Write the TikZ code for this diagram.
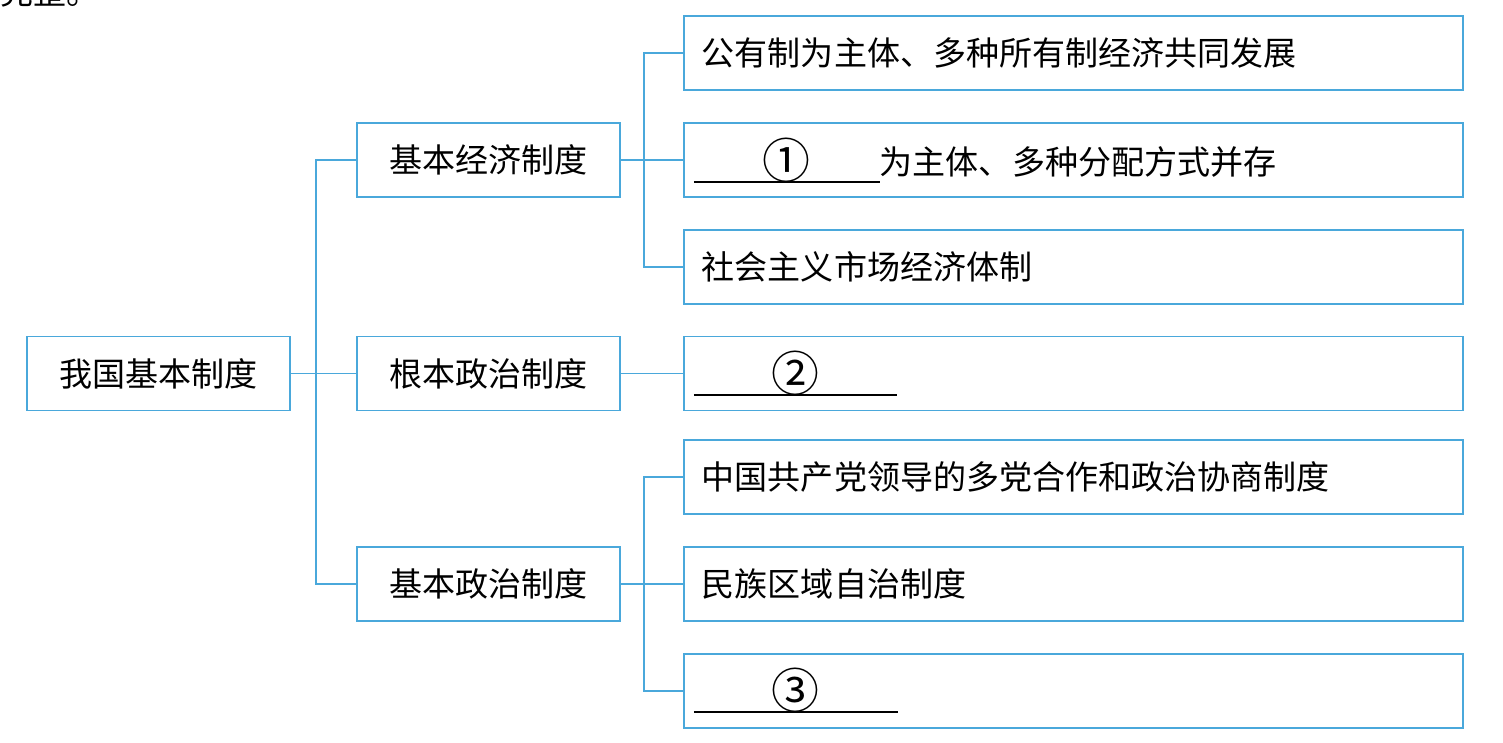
\documentclass[tikz,border=0pt]{standalone}
\usepackage{fontspec}
\usepackage{xcolor}
\usetikzlibrary{positioning}
\newfontfamily\cjk{Noto Sans CJK SC}
\definecolor{BoxLine}{HTML}{4AA8DB}

\newcommand{\answerblank}[2]{\hspace*{-0.16cm}\rlap{\rule[-0.26em]{#1}{1.2pt}}\makebox[#1]{\raisebox{-0.12em}{\scalebox{1.45}{#2}}}}

\tikzset{
  sysbox/.style={draw=BoxLine, line width=1.1pt, minimum width=5.26cm, minimum height=1.48cm, inner sep=0pt},
  itembox/.style={draw=BoxLine, line width=1.1pt, minimum width=15.58cm, minimum height=1.48cm,
    text width=14.86cm, inner xsep=0.36cm, inner ysep=0pt, align=left},
  link/.style={draw=BoxLine, line width=1.1pt}
}

\begin{document}
\begin{tikzpicture}[every node/.style={font=\cjk\fontsize{18.8}{22}\selectfont}]
    \useasboundingbox (0,0) rectangle (30.06,14.84);
    \begin{scope}
      \clip (0,0) rectangle (30.06,14.84);
      \node[anchor=base west, inner sep=0pt] (cut) at (0,14.74) {完整。};
    \end{scope}

    \node[sysbox] (root) at (3.17,7.37) {我国基本制度};
    \node[sysbox, right=1.30cm of root] (gen) {根本政治制度};
    \node[sysbox, above=2.75cm of gen] (eco) {基本经济制度};
    \node[sysbox, below=2.69cm of gen] (bpol) {基本政治制度};

    \node[itembox, right=1.24cm of eco] (own) {\answerblank{3.72cm}{①}为主体、多种分配方式并存};
    \node[itembox, above=0.62cm of own] (pub) {公有制为主体、多种所有制经济共同发展};
    \node[itembox, below=0.62cm of own] (mkt) {社会主义市场经济体制};

    \node[itembox, right=1.24cm of gen] (ans2) {\answerblank{4.06cm}{②}};

    \node[itembox, right=1.24cm of bpol] (ethnic) {民族区域自治制度};
    \node[itembox, above=0.62cm of ethnic] (cpc) {中国共产党领导的多党合作和政治协商制度};
    \node[itembox, below=0.62cm of ethnic] (ans3) {\answerblank{4.08cm}{③}};

    \coordinate[right=0.5cm of root.east] (hub);
    \coordinate[right=0.47cm of eco.east] (ecohub);
    \coordinate[right=0.47cm of bpol.east] (polhub);

    \draw[link] (root) -- (gen);
    \draw[link] (eco.west) -| (hub) |- (bpol.west);
    \draw[link] (gen) -- (ans2);
    \draw[link] (eco) -- (own);
    \draw[link] (pub.west) -| (ecohub) |- (mkt.west);
    \draw[link] (bpol) -- (ethnic);
    \draw[link] (cpc.west) -| (polhub) |- (ans3.west);
\end{tikzpicture}
\end{document}
